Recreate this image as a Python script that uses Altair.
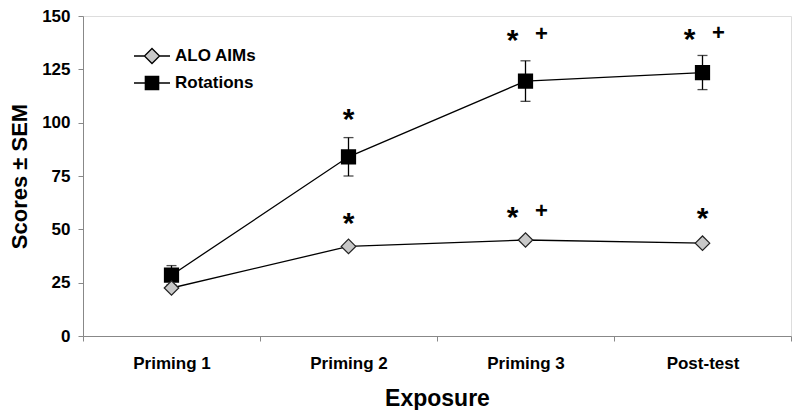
import altair as alt
import pandas as pd

exposure = ["Priming 1", "Priming 2", "Priming 3", "Post-test"]
alo_aims = [22.5, 42.0, 45.0, 43.5]
rotations = [28.5, 84.0, 119.5, 123.5]
rotations_sem = [4.5, 9.0, 9.5, 8.0]
series_names = ["ALO AIMs", "Rotations"]

# significance markers
star_exposure = ["Priming 2", "Priming 2", "Priming 3", "Priming 3", "Post-test", "Post-test"]
star_y = [104.0, 55.5, 141.0, 58.0, 141.5, 57.5]
star_side = ["center", "center", "left", "left", "left", "center"]
plus_exposure = ["Priming 3", "Priming 3", "Post-test"]
plus_y = [142.0, 59.0, 142.5]

rows = []
for name, vals in zip(series_names, [alo_aims, rotations]):
    for e, v in zip(exposure, vals):
        rows.append({"exposure": e, "series": name, "score": v})
df = pd.DataFrame(rows)

err = pd.DataFrame({
    "exposure": exposure,
    "lo": [r - s for r, s in zip(rotations, rotations_sem)],
    "hi": [r + s for r, s in zip(rotations, rotations_sem)],
})
stars = pd.DataFrame({"exposure": star_exposure, "y": star_y, "side": star_side, "t": "*"})
plus = pd.DataFrame({"exposure": plus_exposure, "y": plus_y, "t": "+"})

FONT = "Liberation Sans"

x_enc = alt.X(
    "exposure:N", sort=exposure,
    scale=alt.Scale(type="band", paddingInner=0, paddingOuter=0, domain=exposure),
    axis=alt.Axis(title="Exposure", labelAngle=0, tickBand="extent", tickSize=5,
                  labelPadding=14, titlePadding=16, labelFontSize=17,
                  titleFontSize=23, labelFontWeight="bold", titleFontWeight="bold"),
)
y_scale = alt.Scale(domain=[0, 150], nice=False, zero=True)
y_axis = alt.Axis(title="Scores ± SEM", values=[0, 25, 50, 75, 100, 125, 150],
                  tickSize=5, labelPadding=8, titlePadding=10, labelFontSize=17,
                  titleFontSize=22, grid=False, labelFontWeight="bold",
                  titleFontWeight="bold")

base = alt.Chart(df)

lines = base.mark_line(color="black", strokeWidth=1.3).encode(
    x=x_enc,
    y=alt.Y("score:Q", scale=y_scale, axis=y_axis),
    detail="series:N",
)

err_rule = alt.Chart(err).mark_rule(color="black", strokeWidth=1.3).encode(
    x=alt.X("exposure:N", sort=exposure), y="lo:Q", y2="hi:Q")
err_top = alt.Chart(err).mark_tick(color="black", thickness=1.3, size=10, orient="horizontal").encode(
    x=alt.X("exposure:N", sort=exposure), y="hi:Q")
err_bot = alt.Chart(err).mark_tick(color="black", thickness=1.3, size=10, orient="horizontal").encode(
    x=alt.X("exposure:N", sort=exposure), y="lo:Q")

rot_pts = alt.Chart(df).transform_filter(alt.datum.series == "Rotations").mark_point(
    shape="square", size=175, filled=True, fill="black", stroke="black", opacity=1).encode(
    x=alt.X("exposure:N", sort=exposure), y="score:Q")
alo_pts = alt.Chart(df).transform_filter(alt.datum.series == "ALO AIMs").mark_point(
    shape="diamond", size=210, filled=True, fill="#c8c8c8", stroke="#222222",
    strokeWidth=1.2, opacity=1).encode(
    x=alt.X("exposure:N", sort=exposure), y="score:Q")

alo_path = "M-2,0L-0.84,0M0.84,0L2,0M0,-0.84L0.84,0L0,0.84L-0.84,0Z"
rot_path = "M-2,0L-0.74,0M0.74,0L2,0M-0.74,-0.74L0.74,-0.74L0.74,0.74L-0.74,0.74Z"

legend_layer = base.mark_point(filled=True, opacity=0, size=1, strokeWidth=1.3).encode(
    x=alt.X("exposure:N", sort=exposure), y="score:Q",
    shape=alt.Shape("series:N", scale=alt.Scale(domain=series_names, range=[alo_path, rot_path]),
                    legend=alt.Legend(title=None, orient="none", legendX=59, legendY=30,
                                      symbolSize=324, symbolOpacity=1,
                                      symbolStrokeColor="black", symbolStrokeWidth=1.3,
                                      labelFontSize=17, labelFont=FONT, labelFontWeight="bold",
                                      labelColor="black",
                                      labelOffset=13, rowPadding=6)),
    fill=alt.Fill("series:N", scale=alt.Scale(domain=series_names, range=["#c8c8c8", "black"]),
                  legend=None),
    stroke=alt.Stroke("series:N", scale=alt.Scale(domain=series_names, range=["black", "black"]),
                      legend=None),
)

star_center = alt.Chart(stars).transform_filter(alt.datum.side == "center").mark_text(
    fontSize=30, font=FONT, fontWeight="bold", baseline="middle", dy=6, color="black").encode(
    x=alt.X("exposure:N", sort=exposure), y="y:Q", text="t:N")
star_left = alt.Chart(stars).transform_filter(alt.datum.side == "left").mark_text(
    fontSize=30, font=FONT, fontWeight="bold", baseline="middle", dy=6, dx=-13, color="black").encode(
    x=alt.X("exposure:N", sort=exposure), y="y:Q", text="t:N")
plus_right = alt.Chart(plus).mark_text(
    fontSize=22, font=FONT, fontWeight="bold", baseline="middle", dx=16, dy=1, color="black").encode(
    x=alt.X("exposure:N", sort=exposure), y="y:Q", text="t:N")

chart = alt.layer(
    lines, err_rule, err_top, err_bot, rot_pts, alo_pts, legend_layer,
    star_center, star_left, plus_right,
).properties(width=708, height=320,
             autosize=alt.AutoSizeParams(type="none"),
             padding={"left": 75, "top": 8, "right": 1, "bottom": 74}).configure_view(
    stroke=None).configure_axis(
    labelFont=FONT, titleFont=FONT,
    labelColor="black", titleColor="black", domainColor="black", tickColor="black",
    domainWidth=1.5, tickWidth=1.3,
).configure(background="white")

chart.save("out.html", embed_options={"renderer": "svg", "actions": False})
